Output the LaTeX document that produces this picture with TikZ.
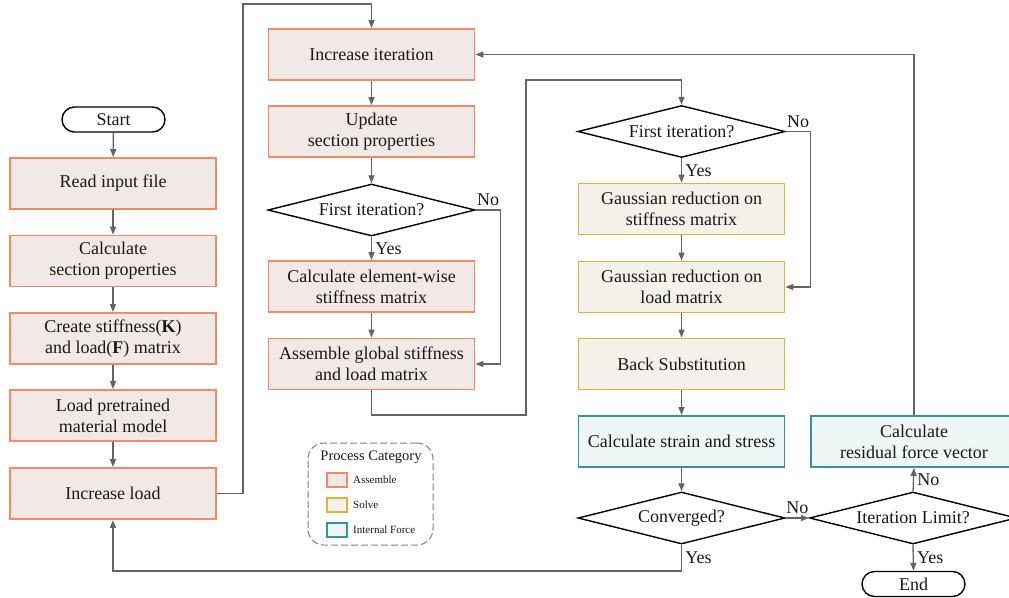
\documentclass[tikz,border=0pt]{standalone}
\usepackage{fontspec}
\setmainfont{Liberation Serif}
\usetikzlibrary{arrows.meta,shapes.geometric}

\definecolor{asmline}{RGB}{244,138,100}
\definecolor{asmfill}{RGB}{242,233,230}
\definecolor{solline}{RGB}{228,176,62}
\definecolor{solfill}{RGB}{244,241,234}
\definecolor{frcline}{RGB}{52,150,150}
\definecolor{frcfill}{RGB}{238,246,246}
\definecolor{linegray}{RGB}{100,100,100}
\definecolor{leggray}{RGB}{128,128,128}

\begin{document}
\begin{tikzpicture}[x=1pt,y=-1pt,
    every node/.style={font=\fontsize{18}{21}\selectfont, align=center, text=black!90},
    proc/.style={line width=1.8pt, minimum width=206pt, minimum height=51pt, inner sep=0pt},
    assemble/.style={proc, draw=asmline, fill=asmfill},
    solve/.style={proc, draw=solline, fill=solfill},
    force/.style={proc, draw=frcline, fill=frcfill},
    decide/.style={diamond, draw, line width=1.4pt, fill=white, aspect=4,
        minimum width=207pt, minimum height=52pt, inner sep=0pt},
    term/.style={draw, line width=1.4pt, rounded corners=12.5pt,
        minimum width=103pt, minimum height=25pt, inner sep=0pt},
    flow/.style={draw=linegray, line width=1.3pt, -{Triangle[length=8pt,width=6pt]}}]
    \useasboundingbox (0,0) rectangle (1009,597);
    \clip (0,0) rectangle (1009,597);

    % first column
    \node[term] (start) at (113.5,119.5) {Start};
    \node[assemble] (read) at (113,183.5) {Read input file};
    \node[assemble] (secprop) at (113,261) {Calculate\\section properties};
    \node[assemble] (create) at (113,338.5) {Create stiffness(\textbf{K})\\and load(\textbf{F}) matrix};
    \node[assemble] (pretrain) at (113,415.5) {Load pretrained\\material model};
    \node[assemble] (incload) at (113,493.5) {Increase load};

    % second column
    \node[assemble] (inciter) at (371.5,54.5) {Increase iteration};
    \node[assemble] (update) at (371.5,131.5) {Update\\section properties};
    \node[decide] (first1) at (371.5,210) {First iteration?};
    \node[assemble] (element) at (371.5,286.5) {Calculate element-wise\\stiffness matrix};
    \node[assemble] (global) at (371.5,364) {Assemble global stiffness\\and load matrix};

    % third column
    \node[decide] (first2) at (681.5,131.5) {First iteration?};
    \node[solve] (gstiff) at (681.5,209) {Gaussian reduction on\\stiffness matrix};
    \node[solve] (gload) at (681.5,287) {Gaussian reduction on\\load matrix};
    \node[solve] (backsub) at (681.5,364) {Back Substitution};
    \node[force] (strain) at (681.5,441.5) {Calculate strain and stress};
    \node[decide] (conv) at (681.5,518) {Converged?};

    % fourth column
    \node[force] (resid) at (914,441.5) {Calculate\\residual force vector};
    \node[decide] (limit) at (913,518) {Iteration Limit?};
    \node[term] (end) at (913.5,584) {End};

    % legend
    \node[draw=leggray, dash pattern=on 7pt off 3pt, line width=1pt, rounded corners=16pt,
        minimum width=125pt, minimum height=102pt] (legend) at (370.5,494) {};
    \node[font=\fontsize{14.5}{17}\selectfont] (legtitle) at (371,457) {Process Category};
    \foreach \y/\name/\dc/\fc [count=\i] in {480/Assemble/asmline/asmfill,
        505/Solve/solline/solfill, 530/Internal Force/frcline/frcfill}{
        \node[draw=\dc, fill=\fc, line width=1.4pt, minimum width=20pt,
            minimum height=14pt, inner sep=0pt] (key\i) at (337,\y) {};
        \node[right=2pt, font=\fontsize{11}{13}\selectfont] (keytext\i) at (key\i.east) {\name};
    }

    \coordinate (top) at (243,4);
    \coordinate (loopa) at (526,415);
    \coordinate (loopb) at (526,80);
    \coordinate (bottom) at (681.5,571);

    % straight connectors
    \foreach \a/\b in {start/read, read/secprop, secprop/create, create/pretrain,
        pretrain/incload, inciter/update, update/first1, element/global,
        gstiff/gload, gload/backsub, backsub/strain, strain/conv}
        \draw[flow] (\a) -- (\b);

    \draw[flow] (first1) -- node[right] {Yes} (element);
    \draw[flow] (first2) -- node[right] {Yes} (gstiff);
    \draw[flow] (first1.east) -- node[above] {No} ++(25,0) |- (global.east);
    \draw[flow] (first2.east) -- node[above] {No} ++(25,0) |- (gload.east);
    \draw[flow] (conv.east) -- node[above] {No} (limit.west);
    \draw[flow] (limit.north) -- node[right] {No} (resid.south);
    \draw[flow] (limit.south) -- node[right] {Yes} (end.north);
    \draw[flow] (resid.north) |- (inciter.east);
    \draw[flow] (incload.east) -| (top) -| (inciter.north);
    \draw[flow] (global.south) |- (loopa) -- (loopb) -| (first2.north);
    \draw[flow] (conv.south) -- node[right] {Yes} (bottom) -| (incload.south);
\end{tikzpicture}
\end{document}
